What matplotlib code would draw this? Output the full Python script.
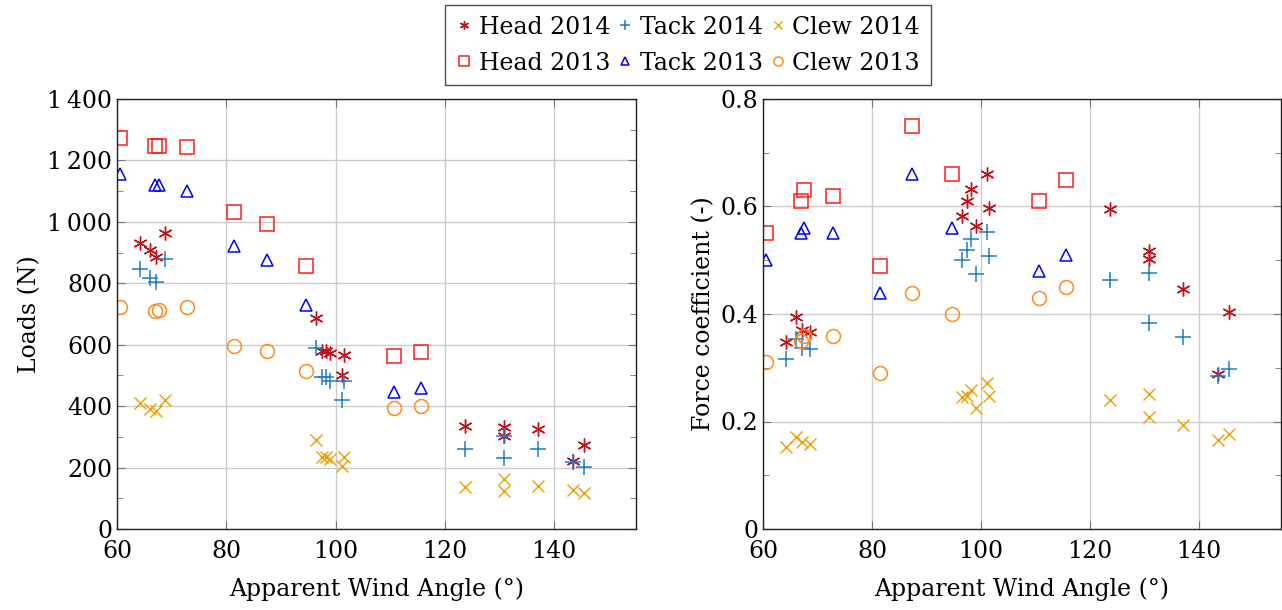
import numpy as np
import matplotlib
matplotlib.use("Agg")
import matplotlib.pyplot as plt
from matplotlib.ticker import MultipleLocator, FuncFormatter

plt.rcParams['font.family'] = ['DejaVu Serif']
plt.rcParams['mathtext.fontset'] = 'dejavuserif'

# 2013 runs
awa_2013 = [60.5, 67.0, 67.6, 72.8, 81.4, 87.4, 94.6, 110.7, 115.6]
head_2013_load = [1274, 1247, 1247, 1243, 1031, 994, 857, 564, 577]
tack_2013_load = [1157, 1120, 1120, 1102, 922, 876, 729, 447, 458]
clew_2013_load = [722, 710, 712, 722, 597, 580, 515, 393, 402]
head_2013_cf = [0.55, 0.61, 0.63, 0.62, 0.49, 0.75, 0.66, 0.61, 0.65]
tack_2013_cf = [0.50, 0.55, 0.56, 0.55, 0.44, 0.66, 0.56, 0.48, 0.51]
clew_2013_cf = [0.31, 0.35, 0.36, 0.36, 0.29, 0.44, 0.40, 0.43, 0.45]

# 2014 runs
awa_2014 = [64.3, 66.0, 67.2, 68.7, 96.5, 97.5, 98.2, 99.0, 101.1, 101.5,
            123.7, 130.8, 130.8, 137.0, 143.4, 145.5]
head_2014_load = [932, 908, 885, 963, 686, 581, 581, 572, 501, 567,
                  336, 333, 303, 325, 222, 275]
tack_2014_load = [847, 818, 803, 880, 590, 494, 494, 482, 420, 482,
                  262, 303, 230, 260, 219, 201]
clew_2014_load = [411, 390, 385, 420, 290, 233, 235, 227, 205, 233,
                  136, 162, 125, 140, 127, 118]
head_2014_cf = [0.348, 0.394, 0.370, 0.367, 0.582, 0.611, 0.633, 0.564, 0.660, 0.598,
                0.595, 0.518, 0.502, 0.447, 0.288, 0.404]
tack_2014_cf = [0.316, 0.353, 0.336, 0.334, 0.500, 0.519, 0.540, 0.474, 0.553, 0.507,
                0.463, 0.477, 0.384, 0.357, 0.285, 0.297]
clew_2014_cf = [0.153, 0.171, 0.161, 0.159, 0.245, 0.248, 0.259, 0.225, 0.271, 0.248,
                0.240, 0.251, 0.209, 0.193, 0.166, 0.176]

c_head14 = '#c0101a'
c_tack14 = '#1f7ac8'
c_clew14 = '#eba000'
c_head13 = '#ff1a1a'
c_tack13 = '#0000ff'
c_clew13 = '#ff8c1a'

fig = plt.figure(figsize=(12.82, 6.10), dpi=100)
ax1 = fig.add_axes([117 / 1282, 81 / 610, 519 / 1282, 430 / 610])
ax2 = fig.add_axes([763 / 1282, 81 / 610, 518 / 1282, 430 / 610])


def draw(ax, h14, t14, c14, h13, t13, c13):
    ax.plot(awa_2014, h14, ls='none', marker=(6, 2, 0), ms=10, mew=1.0,
            color=c_head14, label='Head 2014')
    ax.plot(awa_2014, t14, ls='none', marker='+', ms=12, mew=1.1,
            color=c_tack14, label='Tack 2014')
    ax.plot(awa_2014, c14, ls='none', marker='x', ms=8, mew=1.0,
            color=c_clew14, label='Clew 2014')
    ax.plot(awa_2013, h13, ls='none', marker='s', ms=10, mew=1.1, mfc='none',
            color=c_head13, label='Head 2013')
    ax.plot(awa_2013, t13, ls='none', marker='^', ms=8, mew=1.1, mfc='none',
            color=c_tack13, label='Tack 2013')
    ax.plot(awa_2013, c13, ls='none', marker='o', ms=10, mew=1.1, mfc='none',
            color=c_clew13, label='Clew 2013')
    ax.set_xlim(60, 155)
    ax.xaxis.set_major_locator(MultipleLocator(20))
    ax.grid(True, which='major', color='#cccccc', lw=1.0)
    ax.set_axisbelow(True)
    ax.tick_params(which='both', direction='in', top=True, right=True,
                   color='#777777', labelsize=17)
    ax.tick_params(which='major', length=6)
    ax.tick_params(which='minor', length=4)
    ax.tick_params(axis='x', pad=8)
    for s in ax.spines.values():
        s.set_linewidth(1.0)
        s.set_color('#222222')
    ax.set_xlabel('Apparent Wind Angle (°)', fontsize=17, labelpad=10)


draw(ax1, head_2014_load, tack_2014_load, clew_2014_load,
     head_2013_load, tack_2013_load, clew_2013_load)
ax1.set_ylim(0, 1400)
ax1.yaxis.set_major_locator(MultipleLocator(200))
ax1.yaxis.set_minor_locator(MultipleLocator(100))
ax1.yaxis.set_major_formatter(FuncFormatter(lambda v, p: f"{int(v):,}".replace(",", "\u2009")))
ax1.set_ylabel('Loads (N)', fontsize=17)

draw(ax2, head_2014_cf, tack_2014_cf, clew_2014_cf,
     head_2013_cf, tack_2013_cf, clew_2013_cf)
ax2.set_ylim(0, 0.8)
ax2.yaxis.set_major_locator(MultipleLocator(0.2))
ax2.yaxis.set_minor_locator(MultipleLocator(0.1))
ax2.yaxis.set_major_formatter(FuncFormatter(lambda v, p: '0' if v == 0 else f"{v:.1f}"))
ax2.set_ylabel('Force coefficient (-)', fontsize=17)

handles, labels = ax1.get_legend_handles_labels()
order = [0, 3, 1, 4, 2, 5]
leg = fig.legend([handles[i] for i in order], [labels[i] for i in order],
                 ncol=3, loc='upper center', bbox_to_anchor=(688 / 1282, 1 - 5 / 610),
                 borderaxespad=0.0,
                 fontsize=17, frameon=True, fancybox=False, edgecolor='#222222',
                 handlelength=0.7, handletextpad=0.25, columnspacing=0.3,
                 borderpad=0.45, labelspacing=0.55, markerscale=0.65)
leg.get_frame().set_linewidth(1.0)

fig.savefig('out.png', dpi=100)
